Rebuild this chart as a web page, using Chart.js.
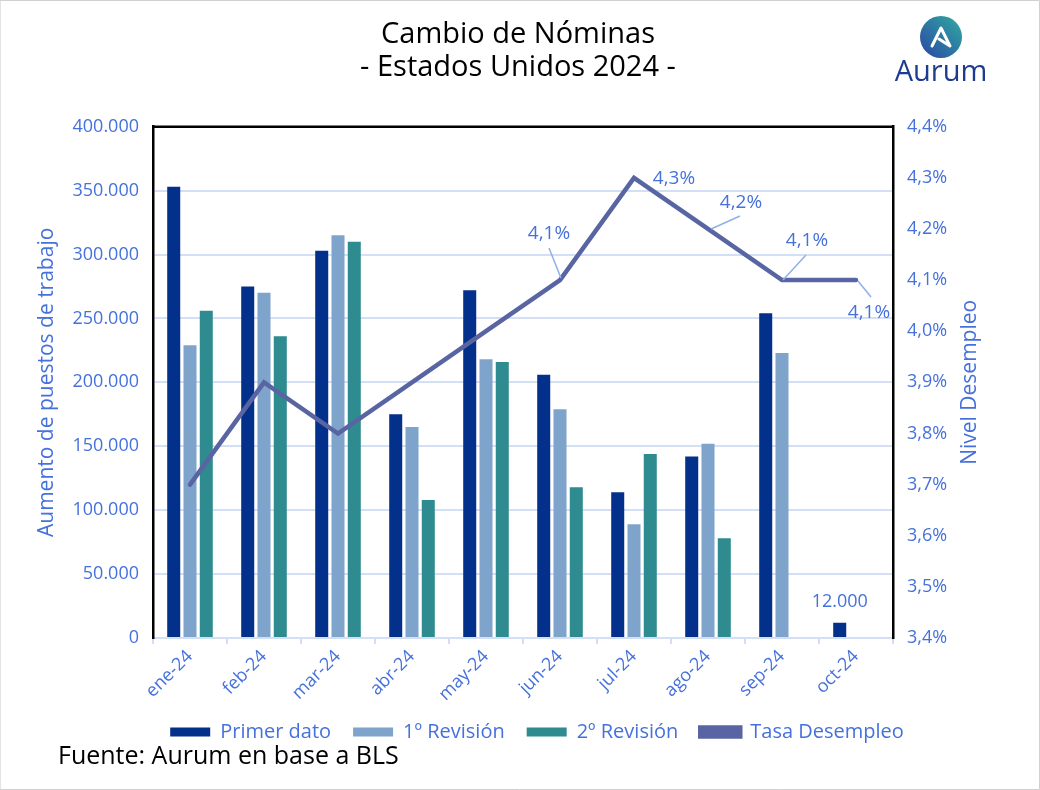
<!DOCTYPE html>
<html>
<head>
<meta charset="utf-8">
<script src="https://cdn.jsdelivr.net/npm/chart.js@4"></script>
<style>
    body { margin: 0; background: #fff; }
    #wrap { width: 1040px; height: 790px; position: relative; }
</style>
</head>
<body>
<div id="wrap"><canvas id="nominasChart"></canvas></div>
<script>
const meses = ["ene-24", "feb-24", "mar-24", "abr-24", "may-24", "jun-24", "jul-24", "ago-24", "sep-24", "oct-24"];
const primerDato = [353000, 275000, 303000, 175000, 272000, 206000, 114000, 142000, 254000, 12000];
const revision1 = [229000, 270000, 315000, 165000, 218000, 179000, 89000, 152000, 223000, null];
const revision2 = [256000, 236000, 310000, 108000, 216000, 118000, 144000, 78000, null, null];
const tasaDesempleo = [3.7, 3.9, 3.8, 3.9, 4.0, 4.1, 4.3, 4.2, 4.1, 4.1];
const ticksEmpleo = [0, 50000, 100000, 150000, 200000, 250000, 300000, 350000, 400000];
const ticksTasa = [3.4, 3.5, 3.6, 3.7, 3.8, 3.9, 4.0, 4.1, 4.2, 4.3, 4.4];

const FONT = "'Open Sans', sans-serif";
const AZUL = "#4571DD";
const GRID = "#D3DFF5";

// which points of the rate line get a label, and where it sits
const tasaLabels = [
    { i: 5, dx: -11, dy: -46, lead: [-11, -32, 1, -2] },
    { i: 6, dx: 40, dy: 1, lead: null },
    { i: 7, dx: 33, dy: -26, lead: [32, -13, 3, 0] },
    { i: 8, dx: 25, dy: -39, lead: [24, -25, 1, 0] },
    { i: 9, dx: 13, dy: 33, lead: [2, 1, 15, 17] },
];

const fmtMiles = v => String(Math.round(v)).replace(/\B(?=(\d{3})+(?!\d))/g, ".");
const fmtTasa = v => v.toFixed(1).replace(".", ",") + "%";

const drawVertical = (ctx, text, x, y) => {
    ctx.save();
    ctx.translate(x, y);
    ctx.rotate(-Math.PI / 2);
    ctx.fillText(text, 0, 0);
    ctx.restore();
}

const etiquetasPlugin = {
    id: "etiquetas",
    afterLayout(chart) {
        // legend and title sit a bit right of centre in the original
        chart.legend.left += 27;
        chart.legend.right += 27;
        chart.titleBlock.left += 8;
        chart.titleBlock.right += 8;
    },
    afterDatasetsDraw(chart) {
        const ctx = chart.ctx;
        const lineMeta = chart.getDatasetMeta(3);
        ctx.save();
        ctx.font = "19px " + FONT;
        ctx.fillStyle = AZUL;
        ctx.textAlign = "center";
        ctx.textBaseline = "middle";
        tasaLabels.forEach(l => {
            const p = lineMeta.data[l.i];
            if (l.lead) {
                ctx.strokeStyle = "#8FB0EA";
                ctx.lineWidth = 1.5;
                ctx.beginPath();
                ctx.moveTo(p.x + l.lead[0], p.y + l.lead[1]);
                ctx.lineTo(p.x + l.lead[2], p.y + l.lead[3]);
                ctx.stroke();
            }
            ctx.fillText(fmtTasa(tasaDesempleo[l.i]), p.x + l.dx, p.y + l.dy);
        });
        // 12.000 over last bar
        const bar = chart.getDatasetMeta(0).data[9];
        ctx.font = "18px " + FONT;
        ctx.fillText(fmtMiles(primerDato[9]), bar.x, bar.y - 21);
        ctx.restore();
    },
    afterDraw(chart) {
        const ctx = chart.ctx;
        const a = chart.chartArea;
        ctx.save();
        // black frame top
        ctx.strokeStyle = "#000";
        ctx.lineWidth = 2.5;
        ctx.beginPath();
        ctx.moveTo(a.left - 1, a.top);
        ctx.lineTo(a.right + 1, a.top);
        ctx.stroke();

        // axis titles, both read bottom to top
        ctx.fillStyle = AZUL;
        ctx.font = "21px " + FONT;
        ctx.textAlign = "center";
        ctx.textBaseline = "middle";
        const midY = (a.top + a.bottom) / 2;
        drawVertical(ctx, "Aumento de puestos de trabajo", 47, midY);
        drawVertical(ctx, "Nivel Desempleo", 970, midY);

        // source
        ctx.fillStyle = "#000";
        ctx.font = "25px " + FONT;
        ctx.textAlign = "left";
        ctx.fillText("Fuente: Aurum en base a BLS", 58, 757);

        // logo
        const cx = 941, cy = 37;
        const g = ctx.createLinearGradient(cx - 20, cy + 20, cx + 20, cy - 20);
        g.addColorStop(0, "#2A48A6");
        g.addColorStop(1, "#30A9A0");
        ctx.fillStyle = g;
        ctx.beginPath();
        ctx.arc(cx, cy, 21, 0, Math.PI * 2);
        ctx.fill();
        ctx.strokeStyle = "#fff";
        ctx.lineWidth = 3;
        ctx.lineJoin = "round";
        ctx.lineCap = "round";
        ctx.beginPath();
        ctx.moveTo(cx - 9, cy + 9);
        ctx.lineTo(cx, cy - 9);
        ctx.lineTo(cx + 9, cy + 9);
        ctx.lineTo(cx - 2, cy + 2);
        ctx.stroke();
        ctx.fillStyle = "#1E3C8F";
        ctx.font = "29px " + FONT;
        ctx.textAlign = "center";
        ctx.fillText("Aurum", cx, 73);

        // outer border
        ctx.strokeStyle = "#D0D0D0";
        ctx.lineWidth = 1;
        ctx.strokeRect(0.5, 0.5, chart.width - 1, chart.height - 1);
        ctx.restore();
    }
};

const generateConfigObject = () => {
    return {
        type: "bar",
        data: {
            labels: meses,
            datasets: [{
                label: "Primer dato",
                backgroundColor: "#03308A",
                data: primerDato,
                yAxisID: "y",
                order: 1,
            }, {
                label: "1º Revisión",
                backgroundColor: "#7FA4CB",
                data: revision1,
                yAxisID: "y",
                order: 1,
            }, {
                label: "2º Revisión",
                backgroundColor: "#2E8B8F",
                data: revision2,
                yAxisID: "y",
                order: 1,
            }, {
                type: "line",
                label: "Tasa Desempleo",
                borderColor: "#5865A2",
                backgroundColor: "#5865A2",
                borderWidth: 4.5,
                pointRadius: 0,
                tension: 0,
                borderCapStyle: "round",
                data: tasaDesempleo,
                yAxisID: "y1",
                order: 0,
            }]
        },
        options: {
            responsive: true,
            maintainAspectRatio: false,
            animation: false,
            categoryPercentage: 0.66,
            barPercentage: 0.8,
            layout: { padding: { top: 6, left: 30, right: 50, bottom: 38 } },
            plugins: {
                tooltip: { enabled: false },
                title: {
                    display: true,
                    text: ["Cambio de Nóminas", "- Estados Unidos 2024 -"],
                    color: "#000",
                    font: { family: FONT, size: 29, weight: "normal", lineHeight: 1.15 },
                    padding: { top: 12, bottom: 42 },
                },
                legend: {
                    position: "bottom",
                    labels: {
                        color: AZUL,
                        font: { family: FONT, size: 20 },
                        boxWidth: 40,
                        boxHeight: 9,
                        padding: 22,
                        sort: (a, b) => a.datasetIndex - b.datasetIndex,
                    }
                }
            },
            scales: {
                x: {
                    grid: { drawOnChartArea: false, drawTicks: true, tickLength: 6, color: GRID, lineWidth: 2 },
                    border: { color: GRID, width: 2 },
                    ticks: { color: AZUL, font: { family: FONT, size: 18 }, minRotation: 45, maxRotation: 45, padding: 2 },
                    afterFit: s => { s.height = 62; },
                },
                y: {
                    position: "left",
                    min: 0,
                    max: 400000,
                    afterBuildTicks: s => { s.ticks = ticksEmpleo.map(v => ({ value: v })); },
                    grid: { color: GRID, lineWidth: 2, drawTicks: false },
                    border: { color: "#000", width: 2.5 },
                    ticks: { color: AZUL, font: { family: FONT, size: 18 }, padding: 14, callback: v => fmtMiles(v) },
                    afterFit: s => { s.width = 123; },
                },
                y1: {
                    position: "right",
                    min: 3.4,
                    max: 4.4,
                    afterBuildTicks: s => { s.ticks = ticksTasa.map(v => ({ value: v })); },
                    grid: { drawOnChartArea: false, drawTicks: false },
                    border: { color: "#000", width: 2.5 },
                    ticks: { color: AZUL, font: { family: FONT, size: 18 }, padding: 14, callback: v => fmtTasa(v) },
                    afterFit: s => { s.width = 97; },
                }
            }
        },
        plugins: [etiquetasPlugin],
    }
}

new Chart(document.getElementById("nominasChart"), generateConfigObject());
</script>
</body>
</html>
